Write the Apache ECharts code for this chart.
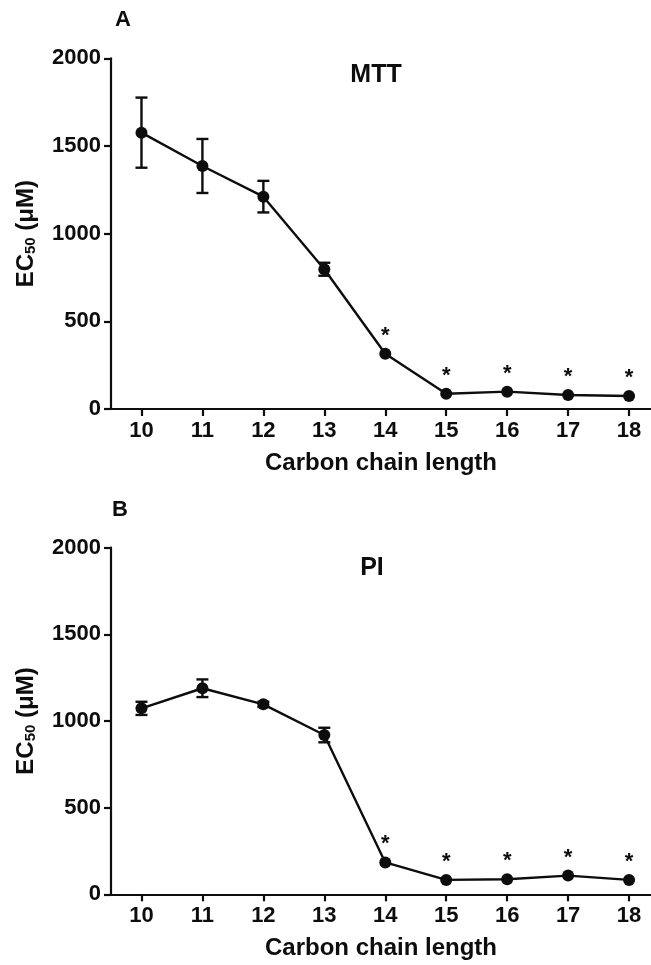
<!DOCTYPE html>
<html>
<head>
<meta charset="utf-8">
<script src="https://cdn.jsdelivr.net/npm/echarts@6/dist/echarts.min.js"></script>
<style>
html,body{margin:0;padding:0;background:#fff;}
#chart{width:651px;height:965px;}
</style>
</head>
<body>
<div id="chart"></div>
<script>
// ---- data ----
const chainLength = [10, 11, 12, 13, 14, 15, 16, 17, 18];
const mttMean = [1576, 1386, 1211, 797, 315, 87, 99, 80, 74];
const mttErr  = [200, 154, 90, 37, 0, 0, 0, 0, 0];
const mttSig  = [false, false, false, false, true, true, true, true, true];
const piMean  = [1073, 1189, 1096, 919, 184, 83, 87, 108, 83];
const piErr   = [38, 51, 15, 42, 0, 0, 0, 0, 0];
const piSig   = [false, false, false, false, true, true, true, true, true];
const yTicks  = [0, 500, 1000, 1500, 2000];
const panelLetters = ['A', 'B'];
const panelTitles = ['MTT', 'PI'];
const xTitle = 'Carbon chain length';

const FONT = "'Liberation Sans', Arial, sans-serif";
const INK = '#0d0d0d';

const chart = echarts.init(document.getElementById('chart'), null, {renderer: 'canvas'});

function xAxisCfg(gridIndex) {
  return {
    type: 'value', gridIndex: gridIndex, min: 9.5, max: 18.36,
    name: xTitle, nameLocation: 'middle', nameGap: 42,
    nameTextStyle: {fontFamily: FONT, fontSize: 24, fontWeight: 'bold', color: INK},
    axisLine: {show: true, onZero: false, lineStyle: {color: INK, width: 2.2}},
    axisTick: {show: true, length: 7, lineStyle: {color: INK, width: 2.2}, customValues: chainLength},
    axisLabel: {fontFamily: FONT, fontSize: 22, fontWeight: 'bold', color: INK, margin: 11, customValues: chainLength,
      formatter: v => String(v)},
    splitLine: {show: false}
  };
}
function yAxisCfg(gridIndex) {
  return {
    type: 'value', gridIndex: gridIndex, min: 0, max: 2000, interval: 500,
    name: 'EC{sub|50} (μM)', nameLocation: 'middle', nameGap: 73, nameRotate: 90,
    nameTextStyle: {fontFamily: FONT, fontSize: 24, fontWeight: 'bold', color: INK,
      rich: {sub: {fontFamily: FONT, fontSize: 15, fontWeight: 'bold', color: INK, verticalAlign: 'bottom', padding: [7, 0, 0, 0]}}},
    axisLine: {show: true, lineStyle: {color: INK, width: 2.2}},
    axisTick: {show: true, length: 7, lineStyle: {color: INK, width: 2.2}},
    axisLabel: {fontFamily: FONT, fontSize: 22, fontWeight: 'bold', color: INK, margin: 10,
      customValues: yTicks, formatter: v => String(v)},
    splitLine: {show: false}
  };
}

function errRender(params, api) {
  const x = api.value(0), y = api.value(1), e = api.value(2);
  if (!e) return null;
  const top = api.coord([x, y + e]);
  const bot = api.coord([x, y - e]);
  const w = 6;
  const st = {stroke: INK, lineWidth: 2.4};
  return {
    type: 'group',
    children: [
      {type: 'line', shape: {x1: top[0], y1: top[1], x2: bot[0], y2: bot[1]}, style: st},
      {type: 'line', shape: {x1: top[0] - w, y1: top[1], x2: top[0] + w, y2: top[1]}, style: st},
      {type: 'line', shape: {x1: bot[0] - w, y1: bot[1], x2: bot[0] + w, y2: bot[1]}, style: st}
    ]
  };
}

function lineSeries(idx, mean, sig) {
  return {
    type: 'line', xAxisIndex: idx, yAxisIndex: idx,
    data: chainLength.map((c, i) => [c, mean[i]]),
    symbol: 'circle', symbolSize: 12,
    lineStyle: {color: INK, width: 2.4},
    itemStyle: {color: INK},
    label: {
      show: true, position: 'top', distance: 1,
      fontFamily: FONT, fontSize: 22, fontWeight: 'bold', color: INK,
      formatter: p => sig[p.dataIndex] ? '*' : ''
    },
    z: 3, animation: false
  };
}
function errSeries(idx, mean, err) {
  return {
    type: 'custom', xAxisIndex: idx, yAxisIndex: idx,
    data: chainLength.map((c, i) => [c, mean[i], err[i]]),
    encode: {x: 0, y: 1},
    renderItem: errRender, z: 2, animation: false, silent: true
  };
}

function txt(x, y, s, size) {
  return {type: 'text', x: x, y: y, style: {text: s, fontFamily: FONT, fontSize: size, fontWeight: 'bold', fill: INK, align: 'center', verticalAlign: 'middle'}};
}

chart.setOption({
  animation: false,
  backgroundColor: '#fff',
  grid: [
    {left: 111, top: 58.3, right: 0, height: 350.7},
    {left: 111, top: 547.7, right: 0, height: 346.6}
  ],
  xAxis: [xAxisCfg(0), xAxisCfg(1)],
  yAxis: [yAxisCfg(0), yAxisCfg(1)],
  series: [
    errSeries(0, mttMean, mttErr), lineSeries(0, mttMean, mttSig),
    errSeries(1, piMean, piErr), lineSeries(1, piMean, piSig)
  ],
  graphic: [
    txt(123, 20, panelLetters[0], 22),
    txt(376, 75, panelTitles[0], 25),
    txt(120, 510, panelLetters[1], 22),
    txt(372, 568, panelTitles[1], 25)
  ]
});
</script>
</body>
</html>
